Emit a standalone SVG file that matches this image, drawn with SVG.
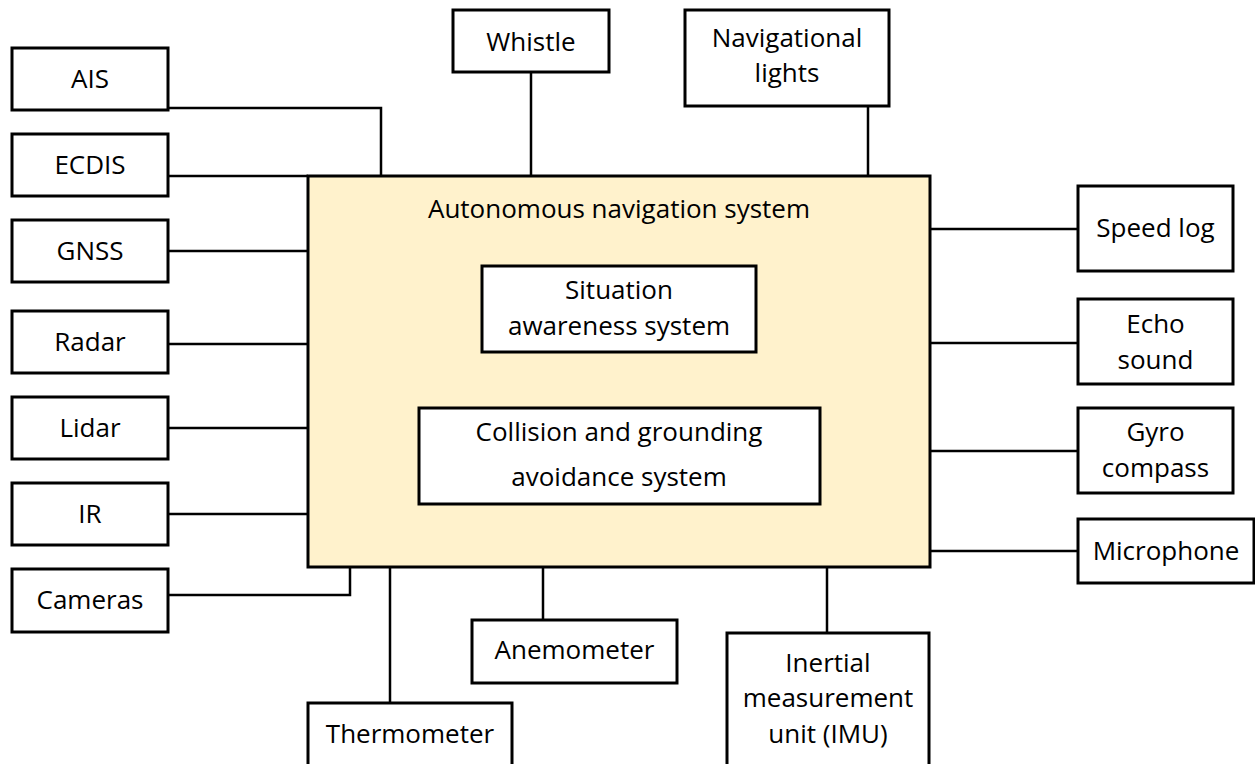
<svg xmlns="http://www.w3.org/2000/svg" width="1255" height="764" viewBox="0 0 1255 764">
<style>
.box{fill:#fff;stroke:#000;stroke-width:3}
.main{fill:#FFF2CC;stroke:#000;stroke-width:3}
.lbl{font-family:"Open Sans","Liberation Sans",sans-serif;font-size:26px;fill:#000;text-anchor:middle}
.con{fill:none;stroke:#000;stroke-width:2.5}
</style>
<rect width="1255" height="764" fill="#fff"/>
<g id="connectors" class="con">
<path d="M168 108 H381 V176"/>
<path d="M168 176 H308"/>
<path d="M168 251 H308"/>
<path d="M168 344 H308"/>
<path d="M168 428 H308"/>
<path d="M168 514 H308"/>
<path d="M168 595 H350 V567"/>
<path d="M390 567 V703"/>
<path d="M543 567 V620"/>
<path d="M827 567 V633"/>
<path d="M531 72 V176"/>
<path d="M868 106 V176"/>
<path d="M930 229 H1078"/>
<path d="M930 343 H1078"/>
<path d="M930 451 H1078"/>
<path d="M930 551 H1078"/>
</g>
<g id="main">
<rect class="main" x="308" y="176" width="622" height="391"/>
<text class="lbl" x="619" y="218">Autonomous navigation system</text>
</g>
<g id="situation">
<rect class="box" x="482" y="266" width="274" height="86"/>
<text class="lbl" x="619" y="299">Situation</text>
<text class="lbl" x="619" y="335">awareness system</text>
</g>
<g id="collision">
<rect class="box" x="419" y="408" width="401" height="96"/>
<text class="lbl" x="619" y="441">Collision and grounding</text>
<text class="lbl" x="619" y="486">avoidance system</text>
</g>
<g id="ais"><rect class="box" x="12" y="48" width="156" height="62"/><text class="lbl" x="90" y="88">AIS</text></g>
<g id="ecdis"><rect class="box" x="12" y="134" width="156" height="62"/><text class="lbl" x="90" y="174">ECDIS</text></g>
<g id="gnss"><rect class="box" x="12" y="220" width="156" height="62"/><text class="lbl" x="90" y="260">GNSS</text></g>
<g id="radar"><rect class="box" x="12" y="311" width="156" height="62"/><text class="lbl" x="90" y="351">Radar</text></g>
<g id="lidar"><rect class="box" x="12" y="397" width="156" height="62"/><text class="lbl" x="90" y="437">Lidar</text></g>
<g id="ir"><rect class="box" x="12" y="483" width="156" height="62"/><text class="lbl" x="90" y="523">IR</text></g>
<g id="cameras"><rect class="box" x="12" y="569" width="156" height="63"/><text class="lbl" x="90" y="609">Cameras</text></g>
<g id="whistle"><rect class="box" x="453" y="10" width="156" height="62"/><text class="lbl" x="531" y="51">Whistle</text></g>
<g id="navlights"><rect class="box" x="685" y="10" width="204" height="96"/><text class="lbl" x="787" y="47">Navigational</text><text class="lbl" x="787" y="82">lights</text></g>
<g id="speedlog"><rect class="box" x="1078" y="186" width="155" height="85"/><text class="lbl" x="1155.5" y="237">Speed log</text></g>
<g id="echo"><rect class="box" x="1078" y="299" width="155" height="85"/><text class="lbl" x="1155.5" y="333">Echo</text><text class="lbl" x="1155.5" y="369">sound</text></g>
<g id="gyro"><rect class="box" x="1078" y="408" width="155" height="85"/><text class="lbl" x="1155.5" y="441">Gyro</text><text class="lbl" x="1155.5" y="477">compass</text></g>
<g id="microphone"><rect class="box" x="1078" y="519" width="176" height="64"/><text class="lbl" x="1166" y="560">Microphone</text></g>
<g id="anemometer"><rect class="box" x="472" y="620" width="205" height="63"/><text class="lbl" x="574.5" y="659">Anemometer</text></g>
<g id="thermometer"><rect class="box" x="308" y="703" width="204" height="70"/><text class="lbl" x="410" y="743">Thermometer</text></g>
<g id="imu"><rect class="box" x="727" y="633" width="202" height="140"/><text class="lbl" x="828" y="672">Inertial</text><text class="lbl" x="828" y="707">measurement</text><text class="lbl" x="828" y="743">unit (IMU)</text></g>
</svg>
